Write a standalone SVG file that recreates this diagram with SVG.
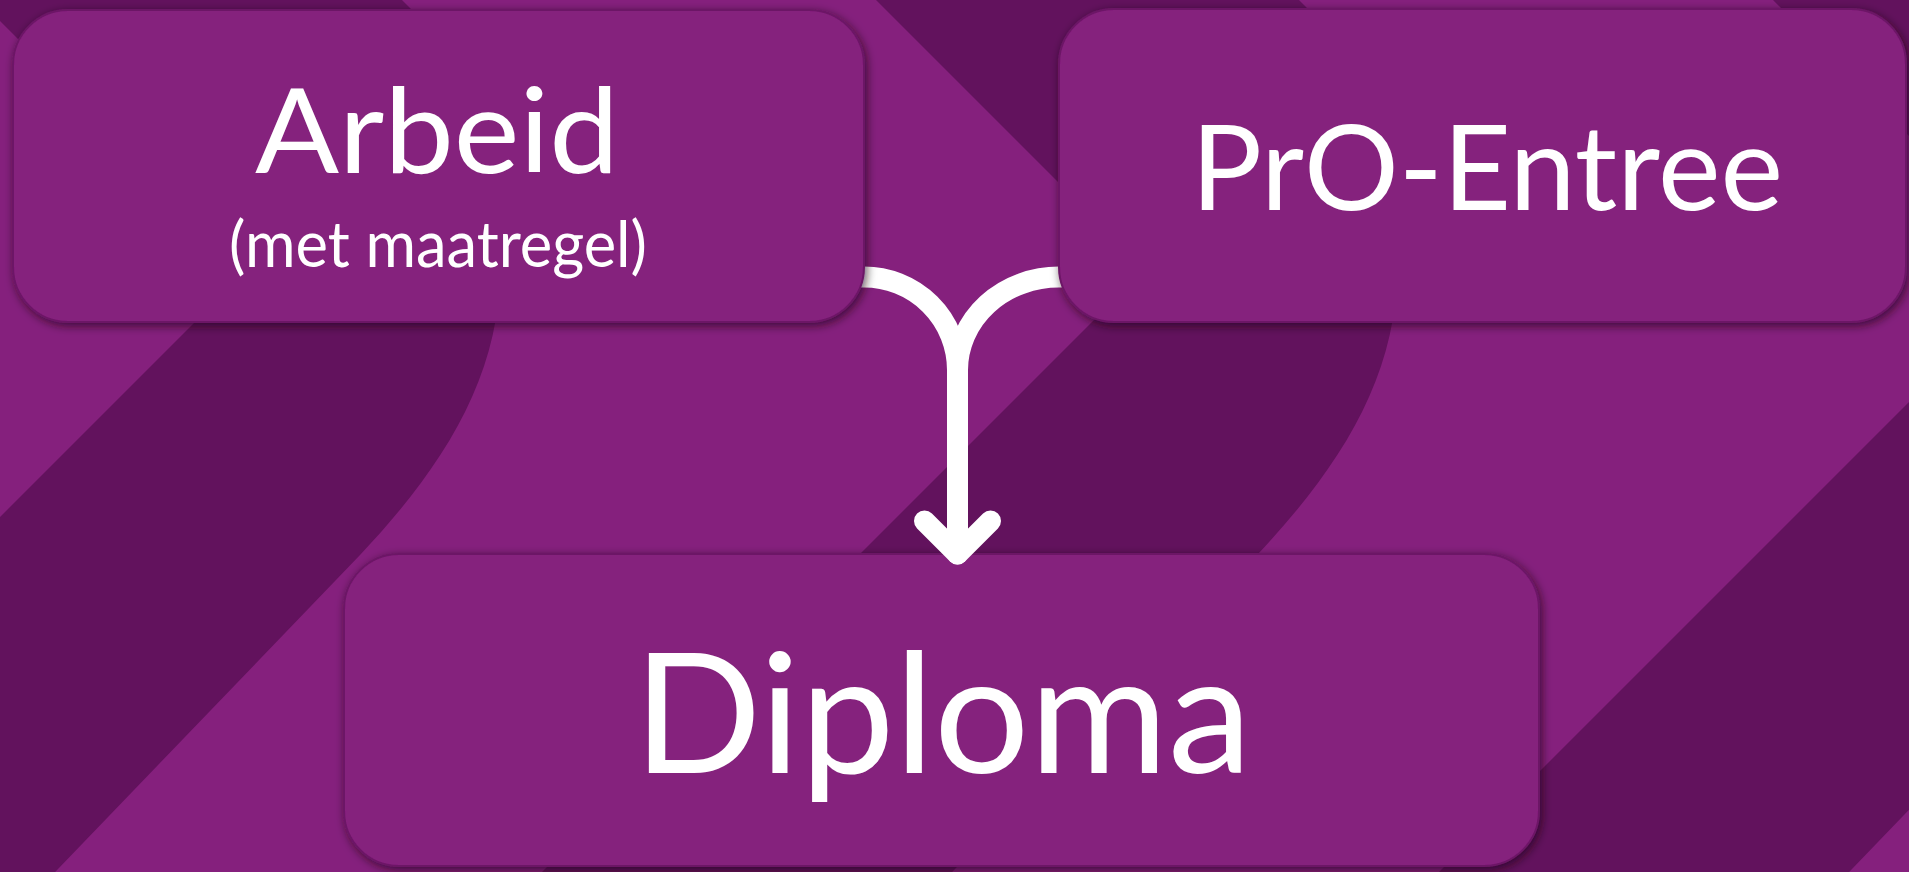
<svg xmlns="http://www.w3.org/2000/svg" width="1909" height="872" viewBox="0 0 1909 872">
  <defs>
    <style>
      .band { fill: #62125d; }
      .box { fill: #85207d; stroke: #6c1766; stroke-width: 2; filter: url(#shadow); }
      .label { fill: #ffffff; font-family: Lato, "Noto Sans", "Open Sans", sans-serif; text-anchor: middle; }
      .conn { fill: none; stroke: #ffffff; stroke-width: 21; stroke-linecap: round; stroke-linejoin: round; }
    </style>
    <filter id="shadow" x="-10%" y="-10%" width="120%" height="125%">
      <feDropShadow dx="2" dy="3" stdDeviation="5" flood-color="#1a0018" flood-opacity="0.65"/>
    </filter>
    <path id="chevron" d="M -121,-100 L 248,269 L -483,1000 L -68,1000 L 360,555 C 440,470 500,380 500,269 C 500,170 460,60 412,10 L 392,-10 L 300,-100 Z"/>
  </defs>

  <g id="background">
    <rect x="0" y="0" width="1909" height="872" fill="#85207d"/>
    <use href="#chevron" class="band"/>
    <use href="#chevron" class="band" transform="translate(897,0)"/>
    <use href="#chevron" class="band" transform="translate(1794,0)"/>
  </g>

  <g id="node-diploma">
    <rect class="box" x="344" y="554" width="1195" height="312" rx="55" ry="55"/>
    <text class="label" x="942.5" y="773" font-size="166" textLength="618" lengthAdjust="spacingAndGlyphs">Diploma</text>
  </g>

  <g id="connectors">
    <path class="conn" d="M 850,277 L 864,277 A 93.5 93 0 0 1 957.5,370"/>
    <path class="conn" d="M 1073,277 L 1059,277 A 101.5 93 0 0 0 957.5,370"/>
    <path class="conn" d="M 957.5,370 L 957.5,554"/>
    <path class="conn" d="M 924.5,521 L 957.5,554 L 990.5,521"/>
  </g>

  <g id="node-arbeid">
    <rect class="box" x="13" y="10" width="851" height="312" rx="55" ry="55"/>
    <text class="label" x="437" y="173" font-size="119" textLength="364" lengthAdjust="spacingAndGlyphs">Arbeid</text>
    <text class="label" x="438" y="267" font-size="63" textLength="418" lengthAdjust="spacingAndGlyphs">(met maatregel)</text>
  </g>

  <g id="node-pro-entree">
    <rect class="box" x="1059" y="9" width="847" height="313" rx="55" ry="55"/>
    <text class="label" x="1487" y="210" font-size="118" textLength="592" lengthAdjust="spacingAndGlyphs">PrO-Entree</text>
  </g>
</svg>
